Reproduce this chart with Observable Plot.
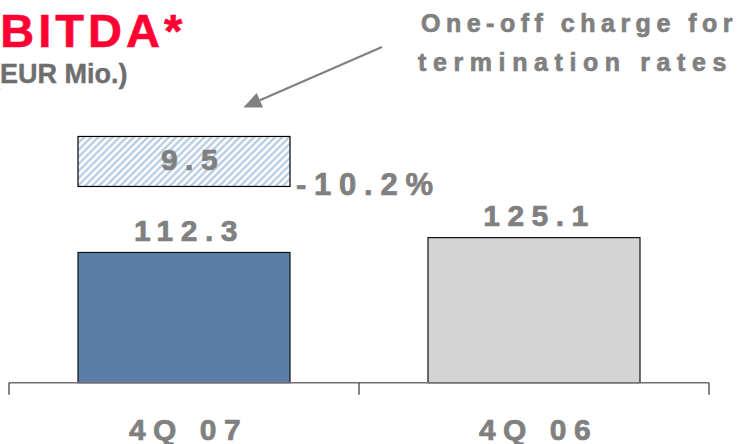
<!DOCTYPE html>
<html>
<head>
<meta charset="utf-8">
<script src="https://cdn.jsdelivr.net/npm/d3@7"></script>
<script src="https://cdn.jsdelivr.net/npm/@observablehq/plot@0.6"></script>
<style>
  html, body { margin: 0; padding: 0; background: #fff; overflow: hidden; }
  #chart svg text { letter-spacing: 0.25em; }
</style>
</head>
<body>
<div id="chart"></div>
<script>
// EBITDA by quarter (EUR Mio.)
const quarters = ["4Q 07", "4Q 06"];
const ebitda = [112.3, 125.1];
const barColors = ["#5a7ea8", "#d4d4d4"];
// one-off charge for termination rates, shown above 4Q 07
const oneOffCharge = 9.5;

const rows = quarters.map((quarter, i) => ({quarter, value: ebitda[i], color: barColors[i]}));
const fmt = d3.format(".1f");
const changeLabel = d3.format(".1%")(ebitda[0] / ebitda[1] - 1).replace("\u2212", "-");

const W = 747, H = 444;
const FONT = '"Liberation Sans", Arial, Helvetica, sans-serif';
const GREY = "#808080";

// grey label styling: bold with a thin same-colour outline for a heavier stroke
function greyText(sel, size) {
  return sel.attr("font-family", FONT).attr("font-weight", "bold").attr("font-size", size)
    .attr("fill", GREY).attr("stroke", GREY).attr("stroke-width", 0.7);
}

// baseline with category separators, the hatched one-off box, the arrow and headings
function decorations(index, scales, values, dims) {
  const {x, y} = scales;
  const g = d3.create("svg:g").attr("text-anchor", "start");
  const left = dims.marginLeft, right = dims.width - dims.marginRight;
  const step = (right - left) / quarters.length;
  const bw = x.bandwidth ? x.bandwidth() : step * 0.606;
  const y0 = y(0);

  const defs = g.append("defs");
  const pat = defs.append("pattern")
    .attr("id", "hatch").attr("patternUnits", "userSpaceOnUse")
    .attr("width", 5).attr("height", 5)
    .attr("patternTransform", "rotate(45)");
  pat.append("rect").attr("width", 5).attr("height", 5).attr("fill", "#fff");
  pat.append("line").attr("x1", 1.5).attr("x2", 1.5).attr("y1", 0).attr("y2", 5)
    .attr("stroke", "#adc6de").attr("stroke-width", 2.1);

  // baseline
  g.append("line").attr("x1", left).attr("x2", right).attr("y1", y0).attr("y2", y0)
    .attr("stroke", "#6f6f6f").attr("stroke-width", 1.5);
  d3.range(quarters.length + 1).forEach(i => {
    const xi = left + i * step;
    g.append("line").attr("x1", xi).attr("x2", xi).attr("y1", y0).attr("y2", y0 + 12)
      .attr("stroke", "#333").attr("stroke-width", 1.2);
  });

  // one-off box above the 4Q 07 bar
  const bx = x(quarters[0]);
  const boxBottom = y(ebitda[0]) - 66, boxTop = boxBottom - 50;
  g.append("rect").attr("x", bx).attr("y", boxTop).attr("width", bw).attr("height", boxBottom - boxTop)
    .attr("fill", "url(#hatch)").attr("stroke", "#000").attr("stroke-width", 1.2);
  greyText(g.append("text"), 30).attr("x", bx + bw / 2 + 9).attr("y", boxBottom - 16)
    .attr("text-anchor", "middle").text(fmt(oneOffCharge));

  // change between the two quarters
  greyText(g.append("text"), 31).attr("x", bx + bw + 6).attr("y", boxBottom + 9).text(changeLabel);

  // arrow pointing at the one-off box
  const p0 = [382, 47], p1 = [bx + bw * 0.78, boxTop - 29];
  const dx = p1[0] - p0[0], dy = p1[1] - p0[1], len = Math.hypot(dx, dy);
  const ux = dx / len, uy = dy / len, hl = 18, hw = 8;
  const base = [p1[0] - ux * hl, p1[1] - uy * hl];
  g.append("line").attr("x1", p0[0]).attr("y1", p0[1]).attr("x2", base[0]).attr("y2", base[1])
    .attr("stroke", GREY).attr("stroke-width", 2.2);
  g.append("polygon")
    .attr("points", [p1, [base[0] - uy * hw, base[1] + ux * hw], [base[0] + uy * hw, base[1] - ux * hw]].map(p => p.join(",")).join(" "))
    .attr("fill", GREY);

  // annotation
  const note = greyText(g.append("text"), 25);
  note.append("tspan").attr("x", 421).attr("y", 32).style("letter-spacing", "5.5px").text("One-off charge for");
  note.append("tspan").attr("x", 418).attr("y", 71).style("letter-spacing", "6.6px").text("termination rates");

  // heading
  g.append("text").attr("x", -35).attr("y", 47).attr("font-family", FONT).attr("font-weight", "bold")
    .attr("font-size", 47).attr("fill", "#ff0033").attr("stroke", "#ff0033").attr("stroke-width", 0.6)
    .style("letter-spacing", "4px").text("EBITDA*");
  g.append("text").attr("x", -9).attr("y", 83).attr("font-family", FONT).attr("font-weight", "bold")
    .attr("font-size", 27).attr("fill", "#6e6e6e").attr("stroke", "#6e6e6e").attr("stroke-width", 0.4)
    .style("letter-spacing", "0px").text("(EUR Mio.)");

  return g.node();
}

const chart = Plot.plot({
  width: W,
  height: H,
  marginTop: 0,
  marginBottom: 61.3,
  marginLeft: 9,
  marginRight: 38,
  style: {fontFamily: FONT, background: "#fff"},
  x: {domain: quarters, paddingInner: 0.394, paddingOuter: 0.197, axis: null},
  y: {domain: [0, 330], axis: null},
  color: {type: "identity"},
  marks: [
    Plot.barY(rows, {x: "quarter", y: "value", fill: "color", stroke: "#111", strokeWidth: 1.2}),
    Plot.text(rows, {
      x: "quarter", y: "value", text: d => fmt(d.value),
      lineAnchor: "bottom", dy: -12, dx: 5,
      fontSize: 30, fontWeight: "bold", fill: GREY, stroke: GREY, strokeWidth: 0.7
    }),
    Plot.text(rows, {
      x: "quarter", text: "quarter", frameAnchor: "bottom",
      lineAnchor: "bottom", dy: 57, dx: 4,
      fontSize: 30, fontWeight: "bold", fill: GREY, stroke: GREY, strokeWidth: 0.7
    }),
    decorations
  ]
});

document.getElementById("chart").appendChild(chart);
</script>
</body>
</html>
